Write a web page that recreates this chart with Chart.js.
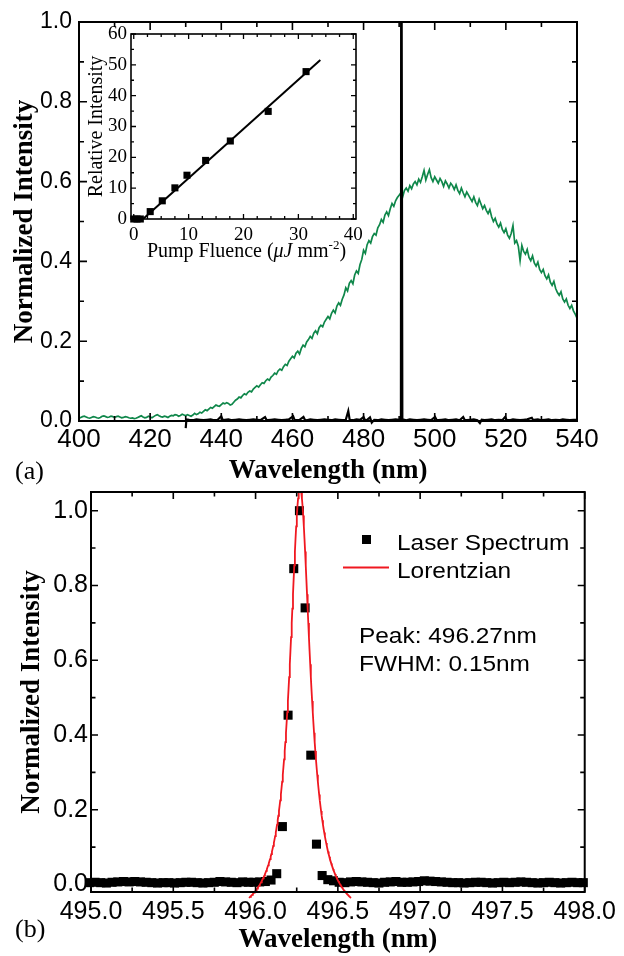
<!DOCTYPE html>
<html>
<head>
<meta charset="utf-8">
<script src="https://cdn.jsdelivr.net/npm/chart.js@4.4.1/dist/chart.umd.min.js"></script>
<style>
  html, body { margin: 0; padding: 0; background: #fff; }
  #figure { position: relative; width: 624px; height: 956px; overflow: hidden; background: #fff; }
  #figure canvas { position: absolute; }
</style>
</head>
<body>
<div id="figure">
  <canvas id="emission" width="624" height="490" style="left:0;top:0"></canvas>
  <canvas id="threshold" width="290" height="245" style="left:80px;top:20px"></canvas>
  <canvas id="laser" width="624" height="486" style="left:0;top:470px"></canvas>
</div>
<script>
// ---------- (a) broad emission spectrum, 400-540 nm sampled every 0.5 nm ----------
const emissionStartNm = 400;
const emissionStepNm = 0.5;
const emissionValues = [
  0.006, 0.009, 0.011, 0.012, 0.010, 0.008, 0.007, 0.009, 0.011, 0.010,
  0.008, 0.007, 0.009, 0.012, 0.013, 0.011, 0.009, 0.010, 0.012, 0.011,
  0.009, 0.011, 0.012, 0.010, 0.008, 0.009, 0.011, 0.010, 0.008, 0.007,
  0.008, 0.006, 0.007, 0.009, 0.011, 0.013, 0.010, 0.008, 0.009, 0.012,
  0.010, 0.008, 0.011, 0.014, 0.016, 0.013, 0.011, 0.010, 0.012, 0.011,
  0.009, 0.012, 0.014, 0.013, 0.016, 0.015, 0.012, 0.014, 0.017, 0.015,
  0.013, 0.016, 0.014, 0.012, 0.015, 0.019, 0.016, 0.018, 0.022, 0.020,
  0.024, 0.028, 0.026, 0.030, 0.034, 0.032, 0.036, 0.040, 0.038, 0.037,
  0.041, 0.045, 0.043, 0.046, 0.044, 0.040, 0.042, 0.047, 0.052, 0.055,
  0.060, 0.058, 0.064, 0.068, 0.066, 0.072, 0.075, 0.073, 0.080, 0.084,
  0.088, 0.085, 0.091, 0.096, 0.094, 0.101, 0.105, 0.102, 0.110, 0.114,
  0.120, 0.117, 0.126, 0.130, 0.127, 0.136, 0.142, 0.139, 0.150, 0.156,
  0.162, 0.158, 0.170, 0.175, 0.168, 0.182, 0.190, 0.186, 0.198, 0.204,
  0.212, 0.207, 0.220, 0.226, 0.219, 0.234, 0.240, 0.236, 0.248, 0.255,
  0.262, 0.256, 0.270, 0.278, 0.271, 0.288, 0.296, 0.290, 0.305, 0.316,
  0.334, 0.326, 0.345, 0.352, 0.344, 0.366, 0.376, 0.370, 0.392, 0.405,
  0.428, 0.420, 0.442, 0.452, 0.446, 0.462, 0.470, 0.466, 0.484, 0.492,
  0.505, 0.498, 0.516, 0.524, 0.515, 0.532, 0.545, 0.538, 0.552, 0.560,
  0.566, 0.572, 0.562, 0.578, 0.584, 0.576, 0.590, 0.582, 0.594, 0.600,
  0.592, 0.606, 0.598, 0.612, 0.628, 0.604, 0.618, 0.630, 0.610, 0.600,
  0.612, 0.604, 0.596, 0.608, 0.600, 0.588, 0.602, 0.594, 0.584, 0.596,
  0.590, 0.580, 0.592, 0.578, 0.570, 0.584, 0.572, 0.562, 0.574, 0.566,
  0.558, 0.550, 0.562, 0.548, 0.540, 0.556, 0.544, 0.532, 0.540, 0.528,
  0.520, 0.530, 0.512, 0.500, 0.508, 0.494, 0.486, 0.496, 0.480, 0.472,
  0.482, 0.466, 0.458, 0.470, 0.490, 0.446, 0.452, 0.438, 0.402, 0.440,
  0.425, 0.418, 0.430, 0.410, 0.402, 0.414, 0.396, 0.388, 0.398, 0.380,
  0.372, 0.380, 0.364, 0.356, 0.366, 0.348, 0.340, 0.350, 0.332, 0.322,
  0.315, 0.324, 0.306, 0.298, 0.306, 0.290, 0.282, 0.290, 0.276, 0.268,
  0.258
];

// ---------- (a) laser output above threshold: narrow line plus detector baseline ----------
const laserTraceNm = [
  430.0, 430.2, 431, 432, 433, 434, 435, 436, 437, 438, 439, 440, 440.4, 441, 442, 443, 444, 445,
  446, 447, 448, 449, 450, 451, 452.3, 452.7, 453, 454, 455, 456, 457, 458, 459, 460.2, 460.6, 461,
  462, 463.1, 463.5, 464, 465, 466, 467, 468, 469, 470, 471, 472, 473, 474, 475, 475.7, 476.1, 477,
  478, 479, 480, 480.4, 481, 481.8, 482.3, 483, 484, 485, 486, 487, 488, 489, 490, 490.5, 490.6,
  490.8, 490.9, 491.5, 492, 493, 494, 495, 496, 497, 498, 499, 500.1, 500.5, 501, 502, 503, 504,
  505, 506, 507, 508, 508.4, 509, 510, 511, 512, 512.7, 513.2, 514, 515, 516, 517, 518, 519, 519.8,
  520.2, 521, 522, 523, 524, 525, 526, 527.3, 527.7, 528, 529, 530, 531, 532, 533, 534, 535, 536,
  537, 538, 539, 540
];
const laserTraceValues = [
  -0.018, 0.004, 0.003, 0.002, 0.004, 0.003, 0.002, 0.003, 0.004, 0.002, 0.003, 0.012, 0.002, 0.003, 0.004, 0.002, 0.003, 0.004,
  0.003, 0.002, 0.003, 0.004, 0.003, 0.002, 0.010, 0.003, 0.002, 0.003, 0.004, 0.003, 0.002, 0.003, 0.004, 0.012, 0.003, 0.002,
  0.003, 0.010, 0.003, 0.002, 0.004, 0.003, 0.002, 0.003, 0.004, 0.003, 0.002, 0.004, 0.003, 0.002, 0.003, 0.025, 0.003, 0.002,
  0.004, 0.003, 0.010, 0.002, 0.003, 0.009, -0.004, 0.003, 0.002, 0.004, 0.003, 0.002, 0.003, 0.004, 0.003, 0.004, 1.6,
  1.6, 0.004, 0.003, 0.002, 0.004, 0.003, 0.002, 0.003, 0.004, 0.003, 0.002, 0.010, 0.003, 0.002, 0.003, 0.004, 0.002,
  0.003, 0.004, 0.002, 0.010, 0.003, 0.002, 0.003, 0.004, 0.002, -0.005, 0.003, 0.002, 0.003, 0.004, 0.002, 0.003, 0.002, 0.010,
  0.003, 0.002, 0.004, 0.003, 0.002, 0.003, 0.004, 0.008, 0.002, 0.003, 0.004, 0.002, 0.003, 0.004, 0.002, 0.003, 0.002, 0.004,
  0.003, 0.002, 0.003, 0.003
];

// ---------- inset: output intensity versus pump fluence ----------
const pumpFluence = [0, 0.6, 1.2, 3.0, 5.2, 7.5, 9.7, 13.1, 17.6, 24.5, 31.4];
const relativeIntensity = [0, 0, 0, 2.4, 5.9, 10.1, 14.2, 19.0, 25.3, 34.9, 47.8];
const fitFluence = [1.7, 34.0];
const fitIntensity = [0, 51.6];

// ---------- (b) high-resolution laser spectrum ----------
const spectrumStartNm = 494.99;
const spectrumStepNm = 0.0345;
const spectrumValues = [
  0.005, 0.006, 0.005, 0.004, 0.006, 0.007, 0.008, 0.007, 0.008, 0.007,
  0.006, 0.005, 0.004, 0.005, 0.005, 0.004, 0.005, 0.006, 0.006, 0.005,
  0.004, 0.005, 0.006, 0.008, 0.007, 0.006, 0.005, 0.007, 0.006, 0.006,
  0.007, 0.008, 0.012,
  0.029, 0.155, 0.453, 0.845, 1.000, 0.740, 0.346, 0.108, 0.024, 0.013,
  0.010, 0.006, 0.005, 0.007, 0.008, 0.007, 0.006, 0.005, 0.004, 0.006,
  0.007, 0.008, 0.006, 0.006, 0.007, 0.008, 0.010, 0.009, 0.008, 0.007,
  0.006, 0.005, 0.005, 0.004, 0.005, 0.006, 0.006, 0.005, 0.004, 0.005,
  0.006, 0.005, 0.006, 0.007, 0.006, 0.005, 0.004, 0.005, 0.006, 0.005,
  0.004, 0.005, 0.006, 0.005, 0.005
];
// Lorentzian fit parameters
const lorentzPeakNm = 496.27;
const lorentzFwhmNm = 0.15;
const lorentzAmplitude = 1.16;
const lorentzOffset = -0.10;
const lorentzRangeNm = [495.96, 496.58];

// ---------- styling ----------
const SANS = '"Liberation Sans", Arial, sans-serif';
const SERIF = '"Liberation Serif", "Times New Roman", serif';
const GREEN = '#0f874a';
const RED = '#f01820';

// Points of the fitted Lorentzian across the drawn range
function lorentzCurve() {
  const pts = [];
  const g = lorentzFwhmNm / 2;
  const n = 160;
  for (let i = 0; i <= n; i++) {
    const x = lorentzRangeNm[0] + (lorentzRangeNm[1] - lorentzRangeNm[0]) * i / n;
    const d = x - lorentzPeakNm;
    pts.push({ x, y: lorentzOffset + lorentzAmplitude * g * g / (d * d + g * g) });
  }
  return pts;
}

// Only every `major`-th step gets a label; the rest are minor ticks
function majorLabel(major, digits) {
  return function (value) {
    const k = value / major;
    return Math.abs(k - Math.round(k)) < 1e-6 ? Number(value).toFixed(digits) : '';
  };
}

// Closed frame with inward ticks on all four sides, taken from the chart's scales
const frameTicks = {
  id: 'frameTicks',
  afterDatasetsDraw(chart, args, opts) {
    const { ctx, chartArea: a } = chart;
    const xs = chart.scales.x, ys = chart.scales.y;
    ctx.save();
    ctx.strokeStyle = '#000';
    ctx.lineWidth = opts.tickWidth;
    ctx.beginPath();
    xs.ticks.forEach(t => {
      const px = xs.getPixelForValue(t.value);
      const len = t.label ? opts.major : opts.minor;
      ctx.moveTo(px, a.bottom); ctx.lineTo(px, a.bottom - len);
      ctx.moveTo(px, a.top); ctx.lineTo(px, a.top + len);
    });
    ys.ticks.forEach(t => {
      const py = ys.getPixelForValue(t.value);
      const len = t.label ? opts.major : opts.minor;
      ctx.moveTo(a.left, py); ctx.lineTo(a.left + len, py);
      ctx.moveTo(a.right, py); ctx.lineTo(a.right - len, py);
    });
    ctx.stroke();
    ctx.lineWidth = opts.frameWidth;
    ctx.strokeRect(a.left, a.top, a.right - a.left, a.bottom - a.top);
    ctx.restore();
  }
};

// Text drawn with a slight horizontal stretch (the figure's sans lettering is wide)
function wideText(ctx, text, x, y, size, stretch) {
  ctx.save();
  ctx.font = size + 'px ' + SANS;
  ctx.fillStyle = '#000';
  ctx.textBaseline = 'alphabetic';
  ctx.textAlign = 'left';
  ctx.translate(x, y);
  ctx.scale(stretch, 1);
  ctx.fillText(text, 0, 0);
  ctx.restore();
}

function panelTag(ctx, tag, x, y) {
  ctx.save();
  ctx.font = '26px ' + SERIF;
  ctx.fillStyle = '#000';
  ctx.textBaseline = 'alphabetic';
  ctx.fillText(tag, x, y);
  ctx.restore();
}

const baseOptions = {
  responsive: false,
  animation: false,
  devicePixelRatio: 1,
  events: []
};

function linearAxis(cfg) {
  return {
    type: 'linear',
    min: cfg.min,
    max: cfg.max,
    grid: { display: false, drawTicks: false },
    border: { display: false },
    ticks: {
      stepSize: cfg.step,
      includeBounds: false,
      autoSkip: false,
      maxRotation: 0,
      minRotation: 0,
      padding: cfg.pad,
      color: '#000',
      font: { family: cfg.family, size: cfg.size, lineHeight: 1 },
      callback: majorLabel(cfg.major, cfg.digits)
    },
    title: cfg.title ? {
      display: true,
      text: cfg.title,
      color: '#000',
      font: { family: SERIF, size: cfg.titleSize, weight: cfg.titleWeight || 'normal', lineHeight: 1 },
      padding: cfg.titlePad
    } : { display: false },
    afterFit(scale) {
      if (cfg.height !== undefined) scale.height = cfg.height;
      if (cfg.width !== undefined) scale.width = cfg.width;
    }
  };
}

// ---------- panel (a) ----------
new Chart(document.getElementById('emission'), {
  type: 'line',
  data: {
    datasets: [
      {
        label: 'Laser',
        data: laserTraceNm.map((x, i) => ({ x, y: laserTraceValues[i] })),
        borderColor: '#000',
        borderWidth: 2.2,
        pointRadius: 0,
        clip: { left: 0, top: 0, right: 0, bottom: 8 }
      },
      {
        label: 'Emission',
        data: emissionValues.map((y, i) => ({ x: emissionStartNm + i * emissionStepNm, y })),
        borderColor: GREEN,
        borderWidth: 1.7,
        pointRadius: 0
      }
    ]
  },
  options: {
    ...baseOptions,
    layout: { padding: { top: 22, right: 47, left: 0, bottom: 0 } },
    plugins: {
      legend: { display: false },
      tooltip: { enabled: false },
      frameTicks: { major: 8, minor: 5, tickWidth: 1.6, frameWidth: 2 }
    },
    scales: {
      x: linearAxis({ min: 400, max: 540, step: 10, major: 20, digits: 0, pad: 6, family: SANS, size: 26,
        title: 'Wavelength (nm)', titleSize: 27, titleWeight: 'bold', titlePad: { top: 0, bottom: 5.5 }, height: 69 }),
      y: linearAxis({ min: 0, max: 1, step: 0.1, major: 0.2, digits: 1, pad: 7, family: SANS, size: 23,
        title: 'Normalized Intensity', titleSize: 27, titleWeight: 'bold', titlePad: { top: 11.5, bottom: 0 }, width: 79 })
    }
  },
  plugins: [frameTicks, {
    id: 'tagA',
    afterDraw(chart) { panelTag(chart.ctx, '(a)', 15, 479); }
  }]
});

// ---------- inset ----------
new Chart(document.getElementById('threshold'), {
  type: 'line',
  data: {
    datasets: [
      {
        label: 'Linear fit',
        data: fitFluence.map((x, i) => ({ x, y: fitIntensity[i] })),
        borderColor: '#000',
        borderWidth: 2,
        pointRadius: 0
      },
      {
        label: 'Output',
        data: pumpFluence.map((x, i) => ({ x, y: relativeIntensity[i] })),
        showLine: false,
        pointStyle: 'rect',
        pointRadius: 5,
        borderWidth: 0,
        backgroundColor: '#000',
        borderColor: '#000',
        clip: false
      }
    ]
  },
  options: {
    ...baseOptions,
    layout: { padding: { top: 14, right: 14, left: 0, bottom: 0 } },
    plugins: {
      legend: { display: false },
      tooltip: { enabled: false },
      frameTicks: { major: 5, minor: 3, tickWidth: 1.3, frameWidth: 1.6 }
    },
    scales: {
      x: linearAxis({ min: -0.5, max: 40.5, step: 2.5, major: 10, digits: 0, pad: 6.5, family: SERIF, size: 19, height: 46 }),
      y: linearAxis({ min: 0, max: 60, step: 5, major: 10, digits: 0, pad: 4, family: SERIF, size: 19,
        title: 'Relative Intensity', titleSize: 20, titlePad: { top: 7, bottom: 0 }, width: 51 })
    }
  },
  plugins: [frameTicks, {
    id: 'fluenceTitle',
    afterDraw(chart) {
      const { ctx } = chart;
      const xs = chart.scales.x;
      const parts = [
        { t: 'Pump Fluence (', f: '20px ' + SERIF, dy: 0 },
        { t: '\u03bcJ', f: 'italic 20px ' + SERIF, dy: 0 },
        { t: ' mm', f: '20px ' + SERIF, dy: 0 },
        { t: '-2', f: '13px ' + SERIF, dy: -8 },
        { t: ')', f: '20px ' + SERIF, dy: 0 }
      ];
      ctx.save();
      ctx.fillStyle = '#000';
      ctx.textBaseline = 'alphabetic';
      ctx.textAlign = 'left';
      let total = 0;
      parts.forEach(p => { ctx.font = p.f; p.w = ctx.measureText(p.t).width; total += p.w; });
      let x = (xs.left + xs.right) / 2 + 3 - total / 2;
      const y = 237;
      parts.forEach(p => { ctx.font = p.f; ctx.fillText(p.t, x, y + p.dy); x += p.w; });
      ctx.restore();
    }
  }]
});

// ---------- panel (b) ----------
new Chart(document.getElementById('laser'), {
  type: 'line',
  data: {
    datasets: [
      {
        label: 'Lorentzian',
        data: lorentzCurve(),
        borderColor: RED,
        borderWidth: 1.8,
        pointRadius: 0,
        clip: { left: 0, top: 0, right: 0, bottom: 10 }
      },
      {
        label: 'Laser Spectrum',
        data: spectrumValues.map((y, i) => ({ x: spectrumStartNm + i * spectrumStepNm, y })),
        showLine: false,
        pointStyle: 'rect',
        pointRadius: 6.4,
        borderWidth: 0,
        backgroundColor: '#000',
        borderColor: '#000',
        clip: false
      }
    ]
  },
  options: {
    ...baseOptions,
    layout: { padding: { top: 22, right: 35, left: 0, bottom: 0 } },
    plugins: {
      legend: { display: false },
      tooltip: { enabled: false },
      frameTicks: { major: 7, minor: 4.5, tickWidth: 1.6, frameWidth: 2 }
    },
    scales: {
      x: linearAxis({ min: 495, max: 498, step: 0.25, major: 0.5, digits: 1, pad: 8, family: SANS, size: 25,
        title: 'Wavelength (nm)', titleSize: 27, titleWeight: 'bold', titlePad: { top: 0, bottom: 2.5 }, height: 64 }),
      y: linearAxis({ min: -0.02, max: 1.05, step: 0.1, major: 0.2, digits: 1, pad: 3, family: SANS, size: 25,
        title: 'Normalized Intensity', titleSize: 27, titleWeight: 'bold', titlePad: { top: 19, bottom: 0 }, width: 91 })
    }
  },
  plugins: [frameTicks, {
    id: 'legendNotes',
    afterDraw(chart) {
      const { ctx } = chart;
      const a = chart.chartArea;
      const sq = chart.data.datasets[1];
      const fit = chart.data.datasets[0];
      // legend: square marker
      ctx.save();
      ctx.fillStyle = sq.backgroundColor;
      ctx.fillRect(a.left + 271, 65, 9, 9);
      // legend: fit line
      ctx.strokeStyle = fit.borderColor;
      ctx.lineWidth = 2;
      ctx.beginPath();
      ctx.moveTo(a.left + 252, 97.5);
      ctx.lineTo(a.left + 298, 97.5);
      ctx.stroke();
      ctx.restore();
      wideText(ctx, sq.label, a.left + 306, 80, 22, 1.11);
      wideText(ctx, fit.label, a.left + 306, 108, 22, 1.11);
      wideText(ctx, 'Peak: ' + lorentzPeakNm.toFixed(2) + 'nm', a.left + 268, 173, 22, 1.11);
      wideText(ctx, 'FWHM: ' + lorentzFwhmNm.toFixed(2) + 'nm', a.left + 268, 201, 22, 1.11);
      panelTag(ctx, '(b)', 15, 467);
    }
  }]
});
</script>
</body>
</html>
